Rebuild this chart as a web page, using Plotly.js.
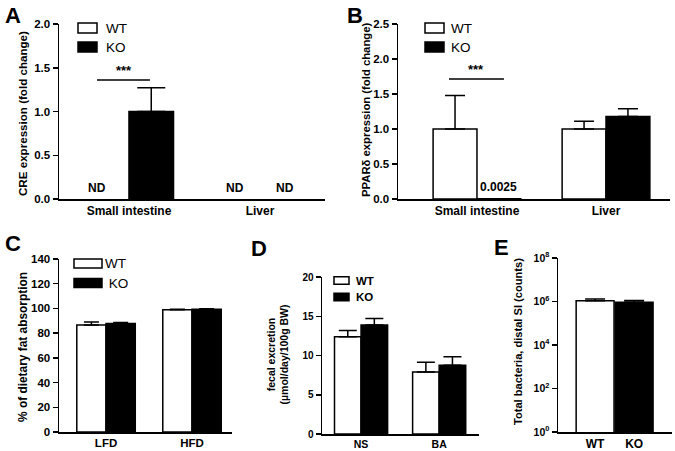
<!DOCTYPE html>
<html>
<head>
<meta charset="utf-8">
<script src="https://cdn.plot.ly/plotly-3.0.1.min.js"></script>
<style>html,body{margin:0;padding:0;background:#fff;}#chart{width:675px;height:451px;}</style>
</head>
<body>
<div id="chart"></div>
<script>
// ---- data ----
var catsAB = ['Small intestine', 'Liver'];
var creWT = [null, null];
var creKO = [1.0, null];
var creKOerr = [0.27, 0];

var pparWT = [1.0, 1.0];
var pparWTerr = [0.48, 0.11];
var pparKO = [0.0025, 1.18];
var pparKOerr = [0, 0.11];

var catsC = ['LFD', 'HFD'];
var fatWT = [86.5, 99.0];
var fatWTerr = [2.5, 0.3];
var fatKO = [87.8, 99.4];
var fatKOerr = [0.8, 0.3];

var catsD = ['NS', 'BA'];
var fecWT = [12.4, 7.9];
var fecWTerr = [0.8, 1.25];
var fecKO = [13.9, 8.75];
var fecKOerr = [0.8, 1.1];

var catsE = ['WT', 'KO'];
var bact = [1.07e6, 0.93e6];
var bactErr = [0.25e6, 0.17e6];

var ticksE = [1, 1e2, 1e4, 1e6, 1e8];
var tickTextE = ['10<sup>0</sup>', '10<sup>2</sup>', '10<sup>4</sup>', '10<sup>6</sup>', '10<sup>8</sup>'];

// ---- helpers ----
var W = 675, H = 451;
function px(x) { return x / W; }
function py(y) { return 1 - y / H; }
var FONT = 'Liberation Sans, Arial, sans-serif';
var LW = 1.5;

function barTrace(x, y, err, color, xa, ya, capw, name) {
  var t = {
    type: 'bar', x: x, y: y, name: name, xaxis: xa, yaxis: ya,
    marker: {color: color, line: {color: 'black', width: LW}},
    width: 0.34, offset: (color === 'white' ? -0.34 : 0),
    showlegend: false, hoverinfo: 'skip'
  };
  if (err) {
    t.error_y = {type: 'data', symmetric: false, array: err,
      arrayminus: err.map(function () { return 0; }),
      color: 'black', thickness: LW, width: capw};
  }
  return t;
}

var data = [
  barTrace(catsAB, creWT, null, 'white', 'x', 'y', 14, 'WT'),
  barTrace(catsAB, creKO, creKOerr, 'black', 'x', 'y', 14, 'KO'),
  barTrace(catsAB, pparWT, pparWTerr, 'white', 'x2', 'y2', 10, 'WT'),
  barTrace(catsAB, pparKO, pparKOerr, 'black', 'x2', 'y2', 10, 'KO'),
  barTrace(catsC, fatWT, fatWTerr, 'white', 'x3', 'y3', 7.5, 'WT'),
  barTrace(catsC, fatKO, fatKOerr, 'black', 'x3', 'y3', 7.5, 'KO'),
  barTrace(catsD, fecWT, fecWTerr, 'white', 'x4', 'y4', 9, 'WT'),
  barTrace(catsD, fecKO, fecKOerr, 'black', 'x4', 'y4', 9, 'KO'),
  {
    type: 'bar', x: catsE, y: bact, xaxis: 'x5', yaxis: 'y5', width: 0.97,
    marker: {color: ['white', 'black'], line: {color: 'black', width: LW}},
    error_y: {type: 'data', symmetric: false, array: bactErr, arrayminus: [0, 0],
      color: 'black', thickness: LW, width: 10},
    showlegend: false, hoverinfo: 'skip'
  }
];

function xax(domain, range, size, anchor) {
  return {domain: domain, range: range, type: 'category', anchor: anchor,
    showline: true, linecolor: 'black', linewidth: LW, ticks: '',
    showgrid: false, zeroline: false, fixedrange: true,
    tickfont: {family: FONT, size: size, color: 'black', weight: 'bold'}};
}
function yax(domain, range, dtick, fmt, size, anchor) {
  return {domain: domain, range: range, dtick: dtick, tick0: 0, tickformat: fmt, anchor: anchor,
    showline: true, linecolor: 'black', linewidth: LW, ticks: 'outside', ticklen: 5,
    tickwidth: LW, tickcolor: 'black', showgrid: false, zeroline: false, fixedrange: true,
    tickfont: {family: FONT, size: size, color: 'black', weight: 'bold'}};
}

var layout = {
  width: W, height: H, margin: {l: 0, r: 0, t: 0, b: 0},
  paper_bgcolor: 'white', plot_bgcolor: 'white',
  font: {family: FONT, color: 'black'},
  barmode: 'group', bargap: 0.32, bargroupgap: 0, showlegend: false,
  xaxis: xax([px(59), px(325)], [-0.534, 1.496], 12, 'y'),
  yaxis: yax([py(199), py(24)], [0, 2], 0.5, '.1f', 11.5, 'x'),
  xaxis2: xax([px(398), px(670)], [-0.612, 1.496], 12, 'y2'),
  yaxis2: yax([py(199), py(24)], [0, 2.5], 0.5, '.1f', 11.5, 'x2'),
  xaxis3: xax([px(59), px(232)], [-0.547, 1.465], 11.5, 'y3'),
  yaxis3: yax([py(432), py(259)], [0, 140], 20, 'd', 11.5, 'x3'),
  xaxis4: xax([px(322), px(479)], [-0.5, 1.51], 10.5, 'y4'),
  yaxis4: yax([py(434), py(277)], [0, 20], 5, 'd', 10, 'x4'),
  xaxis5: xax([px(558), px(672)], [-0.95, 1.97], 12, 'y5'),
  yaxis5: {domain: [py(432), py(258)], type: 'log', range: [0, 8], anchor: 'x5',
    tickvals: ticksE, ticktext: tickTextE,
    showline: true, linecolor: 'black', linewidth: LW, ticks: 'outside', ticklen: 5,
    tickwidth: LW, tickcolor: 'black', showgrid: false, zeroline: false, fixedrange: true,
    tickfont: {family: FONT, size: 10.5, color: 'black', weight: 'bold'}},
  shapes: [],
  annotations: []
};

var S = layout.shapes, A = layout.annotations;

// significance lines (data coordinates)
S.push({type: 'line', xref: 'x', yref: 'y', x0: -0.244, x1: 0.16, y0: 1.36, y1: 1.36, line: {color: 'black', width: LW}});
S.push({type: 'line', xref: 'x2', yref: 'y2', x0: -0.217, x1: 0.209, y0: 1.714, y1: 1.714, line: {color: 'black', width: LW}});
A.push({xref: 'x', yref: 'y', x: -0.04, y: 1.36, text: '***', showarrow: false, yanchor: 'bottom', yshift: 0, font: {size: 13, weight: 'bold'}});
A.push({xref: 'x2', yref: 'y2', x: -0.004, y: 1.714, text: '***', showarrow: false, yanchor: 'bottom', yshift: 0, font: {size: 13, weight: 'bold'}});

// ND and value labels
A.push({xref: 'x', yref: 'y', x: -0.245, y: 0, text: 'ND', showarrow: false, yanchor: 'bottom', yshift: 2, font: {size: 12, weight: 'bold'}});
A.push({xref: 'x', yref: 'y', x: 0.81, y: 0, text: 'ND', showarrow: false, yanchor: 'bottom', yshift: 2, font: {size: 12, weight: 'bold'}});
A.push({xref: 'x', yref: 'y', x: 1.19, y: 0, text: 'ND', showarrow: false, yanchor: 'bottom', yshift: 2, font: {size: 12, weight: 'bold'}});
A.push({xref: 'x2', yref: 'y2', x: 0.163, y: 0, text: '0.0025', showarrow: false, yanchor: 'bottom', yshift: 3, font: {size: 12, weight: 'bold'}});

// legends (drawn)
function legend(x0, x1, yw, yk, h, tx, size, bold, koText) {
  S.push({type: 'rect', xref: 'paper', yref: 'paper', x0: px(x0), x1: px(x1), y0: py(yw - h / 2), y1: py(yw + h / 2),
    fillcolor: 'white', line: {color: 'black', width: LW}});
  S.push({type: 'rect', xref: 'paper', yref: 'paper', x0: px(x0), x1: px(x1), y0: py(yk - h / 2), y1: py(yk + h / 2),
    fillcolor: 'black', line: {color: 'black', width: LW}});
  var f = {size: size, weight: bold ? 'bold' : 'normal'};
  A.push({xref: 'paper', yref: 'paper', x: px(tx), y: py(yw), text: 'WT', showarrow: false, xanchor: 'left', yanchor: 'middle', font: f});
  A.push({xref: 'paper', yref: 'paper', x: px(tx), y: py(yk), text: koText, showarrow: false, xanchor: 'left', yanchor: 'middle', font: f});
}
legend(78, 97, 28, 47, 10, 104, 13.5, false, 'KO');
legend(425, 444, 28, 47, 10, 449, 13.5, false, 'KO');
legend(74, 102, 263.5, 283, 9, 103, 13.5, false, ' KO');
legend(334, 349, 280.5, 297, 7.5, 354, 11.5, true, 'KO');

// y-axis titles
function ytitle(x, y, text, size) {
  A.push({xref: 'paper', yref: 'paper', x: px(x), y: py(y), text: text, textangle: -90, showarrow: false,
    xanchor: 'center', yanchor: 'middle', font: {size: size, weight: 'bold'}});
}
ytitle(23, 114, 'CRE expression (fold change)', 11.6);
ytitle(366, 110, 'PPARδ expression (fold change)', 11.3);
ytitle(23, 347, '% of dietary fat absorption', 11.9);
ytitle(277.5, 355, 'fecal excretion<br>(µmol/day/100g BW)', 10.5);
ytitle(518, 342, 'Total bacteria, distal SI (counts)', 11.1);

// panel letters
function letter(x, y, t) {
  A.push({xref: 'paper', yref: 'paper', x: px(x), y: py(y), text: t, showarrow: false, xanchor: 'left', yanchor: 'top',
    font: {size: 22, weight: 'bold'}});
}
letter(3, 1, 'A');
letter(345, 1, 'B');
letter(3, 229, 'C');
letter(249, 234, 'D');
letter(492, 233, 'E');

Plotly.newPlot('chart', data, layout, {displayModeBar: false, staticPlot: true});
</script>
</body>
</html>
